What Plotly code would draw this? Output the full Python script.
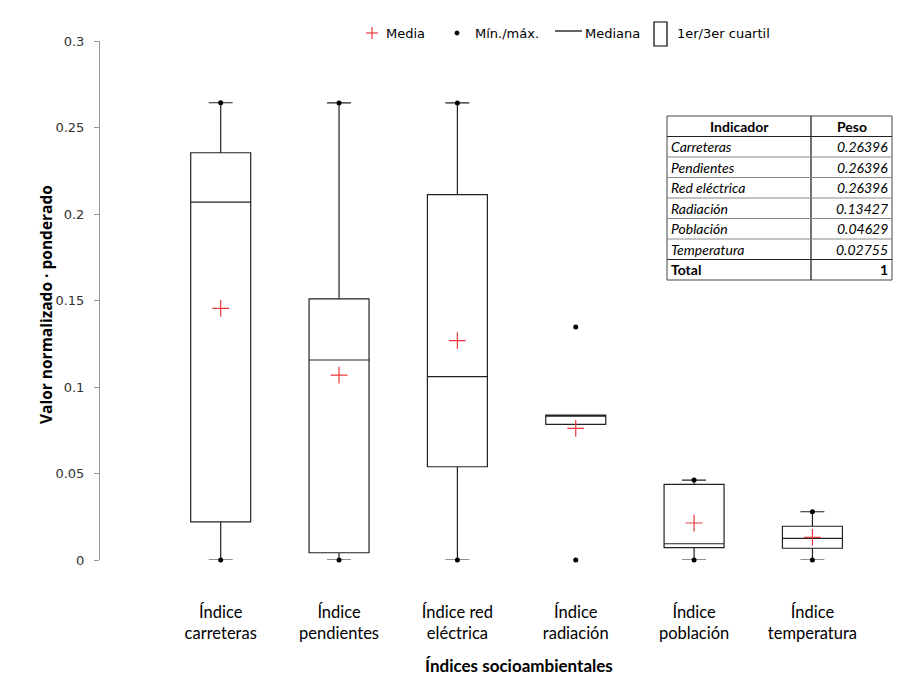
import plotly.graph_objects as go

categories = ["Índice<br>carreteras", "Índice<br>pendientes", "Índice red<br>eléctrica",
              "Índice<br>radiación", "Índice<br>población", "Índice<br>temperatura"]
q1_vals = [0.0220, 0.0042, 0.0539, 0.0784, 0.0071, 0.0068]
median_vals = [0.2069, 0.1156, 0.1060, 0.0832, 0.0094, 0.0125]
q3_vals = [0.2354, 0.1509, 0.2112, 0.0837, 0.0437, 0.0195]
lower_whisker = [0.0, 0.0, 0.0, 0.0784, 0.0, 0.0]
upper_whisker = [0.2643, 0.2642, 0.2642, 0.0837, 0.0462, 0.0279]
min_vals = [0.0, 0.0, 0.0, 0.0, 0.0, 0.0]
max_vals = [0.2643, 0.2642, 0.2642, 0.1347, 0.0462, 0.0279]
mean_vals = [0.1455, 0.1069, 0.1268, 0.0761, 0.0214, 0.0131]

legend_labels = ["Media", "Mín./máx.", "Mediana", "1er/3er cuartil"]

table_header = ["Indicador", "Peso"]
table_names = ["Carreteras", "Pendientes", "Red eléctrica", "Radiación", "Población", "Temperatura"]
table_weights = ["0.26396", "0.26396", "0.26396", "0.13427", "0.04629", "0.02755"]
table_total = "1"

y_ticks = [0, 0.05, 0.1, 0.15, 0.2, 0.25, 0.3]
y_ticklabels = ["0", "0.05", "0.1", "0.15", "0.2", "0.25", "0.3"]

W, H = 915, 685
ML, MR, MT, MB = 100, 15, 41, 125
PW, PH = W - ML - MR, H - MT - MB
RED = "#e8383d"


def px_x(px):
    return (px - ML) / PW


def px_y(py):
    return (H - MB - py) / PH


fig = go.Figure()

fig.add_trace(go.Box(
    x=categories, q1=q1_vals, median=median_vals, q3=q3_vals,
    lowerfence=lower_whisker, upperfence=upper_whisker,
    fillcolor="rgba(255,255,255,0)", line=dict(color="#222222", width=1.2),
    width=0.507, whiskerwidth=0.4, boxpoints=False, showlegend=False,
    hoverinfo="skip",
))

fig.add_trace(go.Scatter(
    x=categories + categories, y=min_vals + max_vals, mode="markers",
    marker=dict(symbol="circle", size=5, color="black"),
    showlegend=False, cliponaxis=False, hoverinfo="skip",
))
fig.add_trace(go.Scatter(
    x=categories, y=mean_vals, mode="markers",
    marker=dict(symbol="cross-thin", size=12, line=dict(color=RED, width=1.2)),
    showlegend=False, cliponaxis=False, hoverinfo="skip",
))

shapes = []
annotations = []

# ---- legend (drawn by hand to match the spacing) ----
ly = 33
leg_font = dict(family="DejaVu Sans", size=13, color="black")
shapes.append(dict(type="line", xref="paper", yref="paper", x0=px_x(366), x1=px_x(378),
                   y0=px_y(ly), y1=px_y(ly), line=dict(color=RED, width=1.2)))
shapes.append(dict(type="line", xref="paper", yref="paper", x0=px_x(372), x1=px_x(372),
                   y0=px_y(ly - 6), y1=px_y(ly + 6), line=dict(color=RED, width=1.2)))
shapes.append(dict(type="circle", xref="paper", yref="paper", x0=px_x(455), x1=px_x(459),
                   y0=px_y(ly + 2), y1=px_y(ly - 2), fillcolor="black", line=dict(color="black", width=1)))
shapes.append(dict(type="line", xref="paper", yref="paper", x0=px_x(555), x1=px_x(582),
                   y0=px_y(ly - 2), y1=px_y(ly - 2), line=dict(color="black", width=1.2)))
shapes.append(dict(type="rect", xref="paper", yref="paper", x0=px_x(654), x1=px_x(667),
                   y0=px_y(46), y1=px_y(22), line=dict(color="black", width=1.2)))
for lab, x0 in zip(legend_labels, [384, 473, 583, 675]):
    annotations.append(dict(x=px_x(x0), y=px_y(ly), xref="paper", yref="paper", text=lab,
                            showarrow=False, xanchor="left", yanchor="middle", font=leg_font))

# ---- weights table built from shapes + annotations ----
tx0, tx1, tx2 = 667, 811, 892
ty0, rh = 116, 20.5
rows = [(table_header[0], table_header[1], "header")] + \
       [(n, w, "body") for n, w in zip(table_names, table_weights)] + \
       [("Total", table_total, "total")]
n_rows = len(rows)
shapes.append(dict(type="rect", xref="paper", yref="paper", x0=px_x(tx0), x1=px_x(tx2),
                   y0=px_y(ty0 + rh * n_rows), y1=px_y(ty0), line=dict(color="#444444", width=1)))
shapes.append(dict(type="line", xref="paper", yref="paper", x0=px_x(tx1), x1=px_x(tx1),
                   y0=px_y(ty0 + rh * n_rows), y1=px_y(ty0), line=dict(color="#222222", width=1.3)))
for i in range(1, n_rows):
    shapes.append(dict(type="line", xref="paper", yref="paper", x0=px_x(tx0), x1=px_x(tx2),
                       y0=px_y(ty0 + rh * i), y1=px_y(ty0 + rh * i),
                       line=dict(color="#222222" if i in (1, n_rows - 1) else "#888888", width=1)))
tab_font = dict(family="Lato", size=14, color="black")
for i, (a, b, kind) in enumerate(rows):
    yc = px_y(ty0 + rh * (i + 0.5))
    if kind == "header":
        annotations.append(dict(x=px_x((tx0 + tx1) / 2), y=yc, text="<b>%s</b>" % a, showarrow=False,
                                xref="paper", yref="paper", xanchor="center", yanchor="middle", font=tab_font))
        annotations.append(dict(x=px_x((tx1 + tx2) / 2), y=yc, text="<b>%s</b>" % b, showarrow=False,
                                xref="paper", yref="paper", xanchor="center", yanchor="middle", font=tab_font))
    else:
        fmt = "<b>%s</b>" if kind == "total" else "<i>%s</i>"
        annotations.append(dict(x=px_x(tx0 + 2), y=yc, text=fmt % a, showarrow=False,
                                xref="paper", yref="paper", xanchor="left", yanchor="middle", font=tab_font))
        annotations.append(dict(x=px_x(tx2 - 2), y=yc, text=fmt % b, showarrow=False,
                                xref="paper", yref="paper", xanchor="right", yanchor="middle", font=tab_font))

# ---- axis titles ----
annotations.append(dict(x=px_x(519), y=px_y(665), xref="paper", yref="paper", showarrow=False,
                        text="<b>Índices socioambientales</b>", xanchor="center", yanchor="middle",
                        font=dict(family="Lato", size=17, color="black")))
annotations.append(dict(x=px_x(46), y=px_y(305), xref="paper", yref="paper", showarrow=False,
                        text="<b>Valor normalizado · ponderado</b>", textangle=-90,
                        xanchor="center", yanchor="middle",
                        font=dict(family="Open Sans", size=15.5, color="black")))

fig.update_layout(
    width=W, height=H,
    margin=dict(l=ML, r=MR, t=MT, b=MB, autoexpand=False),
    paper_bgcolor="white", plot_bgcolor="white",
    font=dict(family="Lato", color="black"),
    showlegend=False,
    shapes=shapes, annotations=annotations,
    xaxis=dict(type="category", range=[-1.02, 5.74], showline=False, showgrid=False,
               ticks="", tickfont=dict(family="Lato", size=16.5, color="black"),
               ticklabelstandoff=40, automargin=False, fixedrange=True),
    yaxis=dict(range=[0, 0.3], tickvals=y_ticks, ticktext=y_ticklabels,
               showline=True, linecolor="#999999", linewidth=1, showgrid=False,
               ticks="outside", ticklen=5, tickcolor="#999999", ticklabelstandoff=7,
               tickfont=dict(family="DejaVu Sans", size=13, color="#333333"),
               automargin=False, zeroline=False),
)

fig.write_html("out.html", config={"displayModeBar": False},
               post_script="document.body.style.margin='0';document.body.style.padding='0';")
